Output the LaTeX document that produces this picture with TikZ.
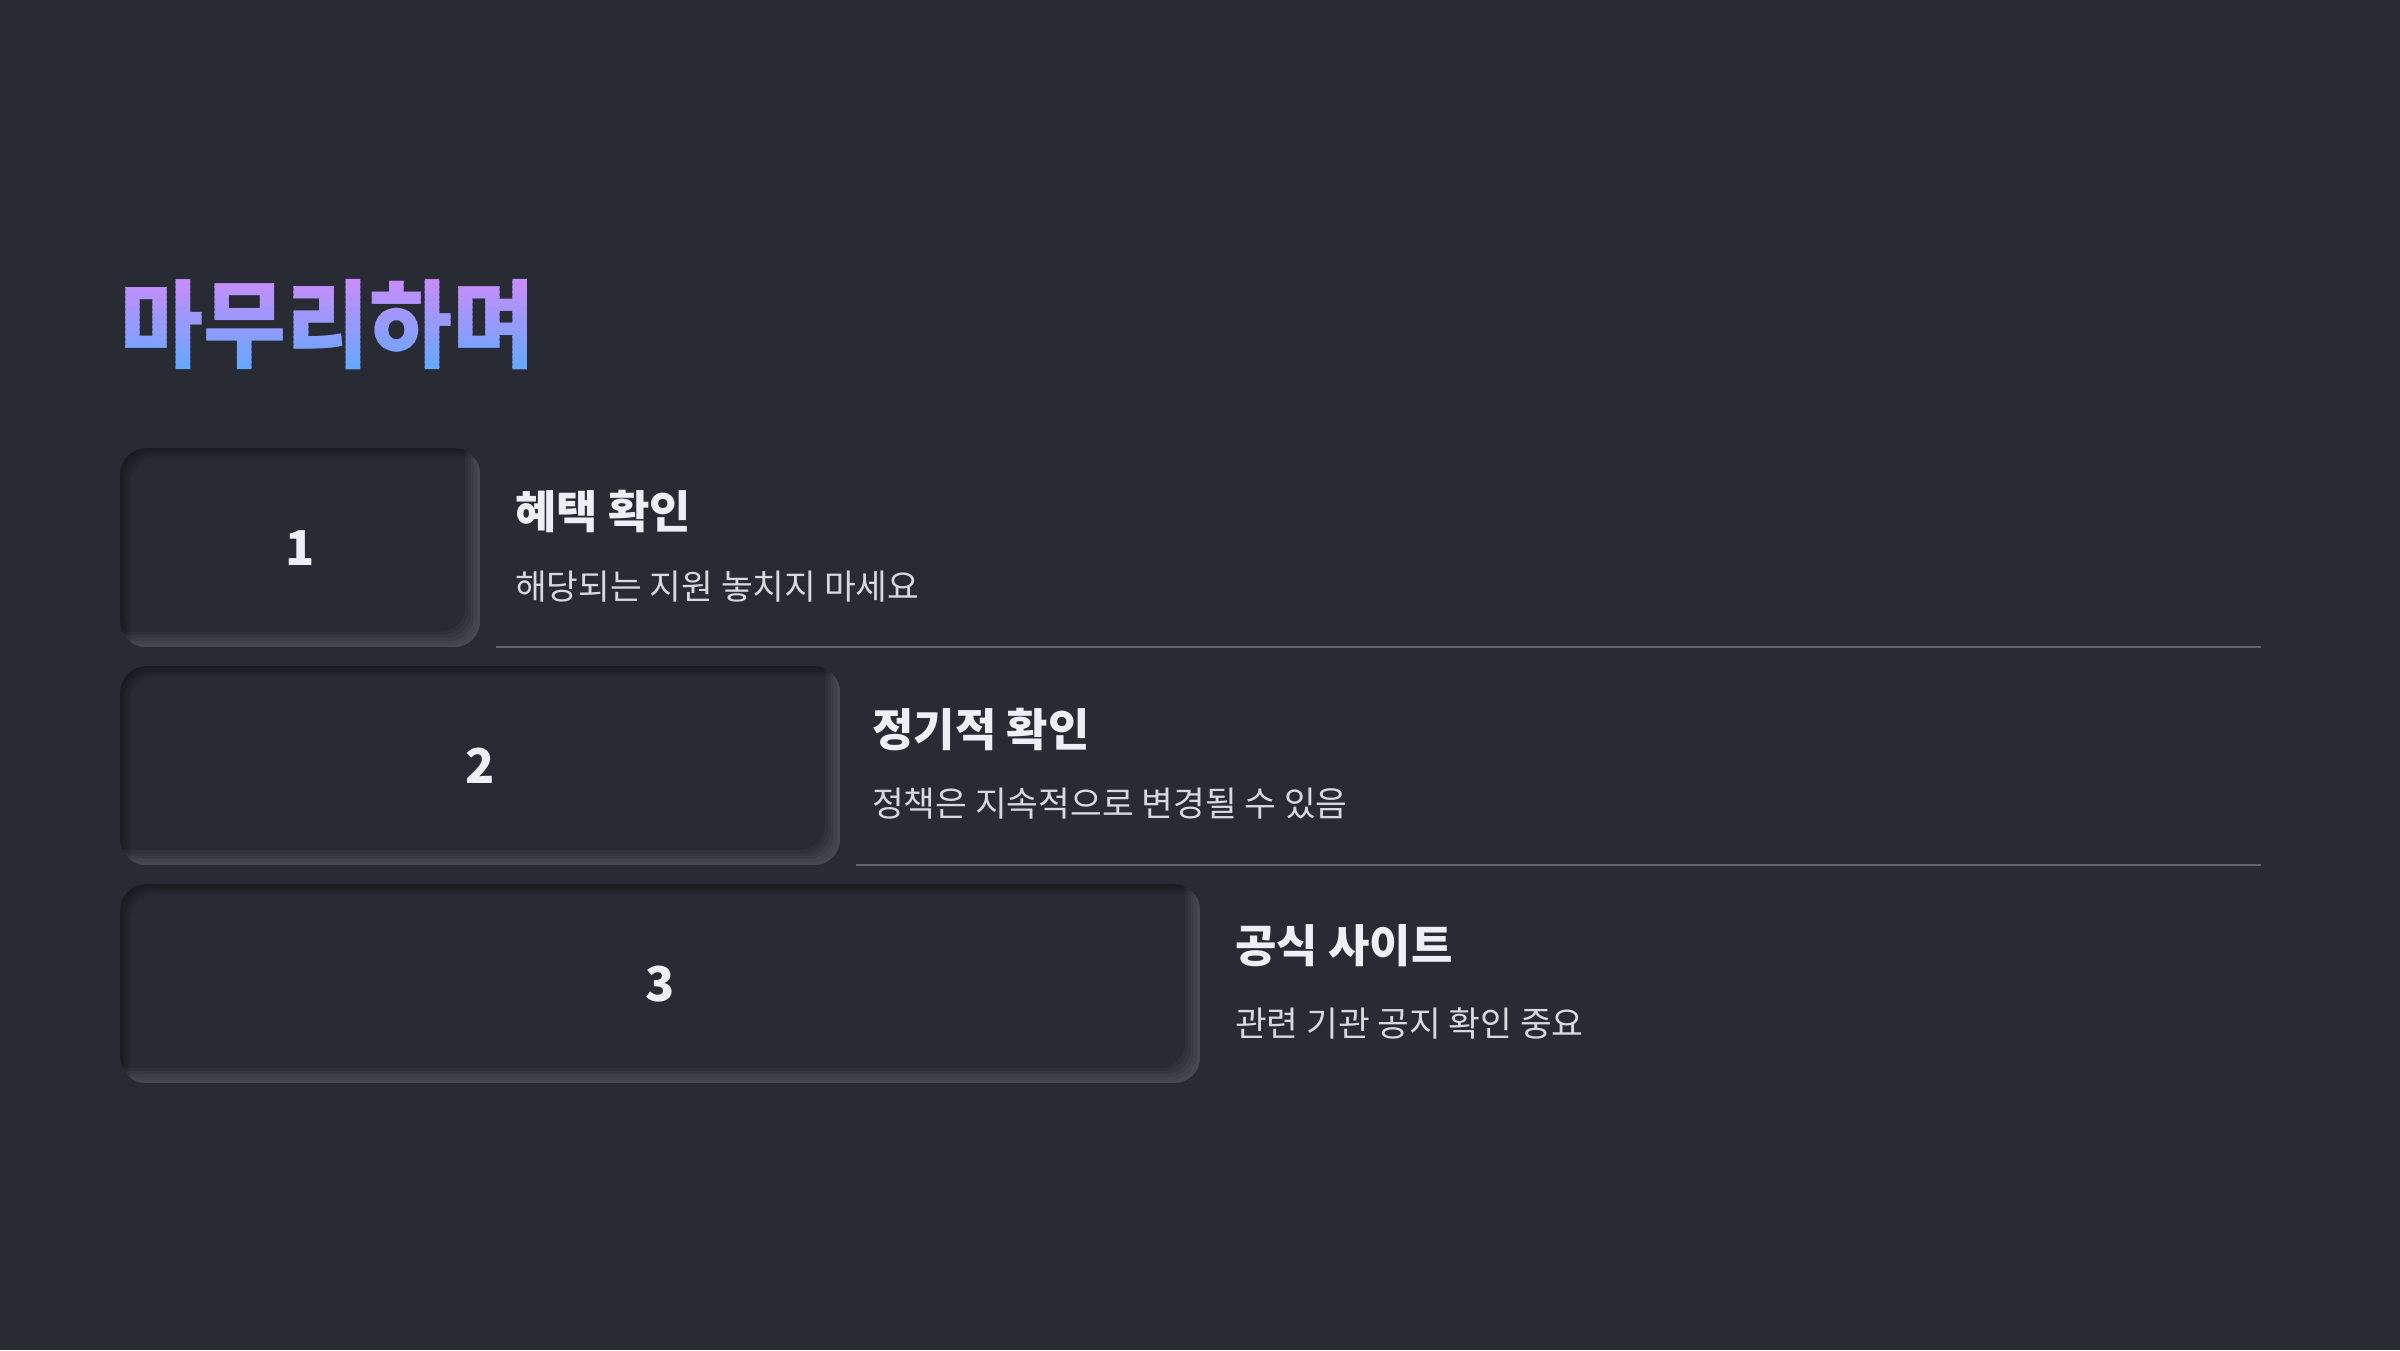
\documentclass[tikz,border=0pt]{standalone}
\usepackage{fontspec}
\newfontfamily\krfont{Noto Sans CJK KR}
\newfontfamily\krtitle[FakeStretch=0.94]{Noto Sans CJK KR}
\definecolor{bg}{RGB}{40,43,51}
\definecolor{sepline}{RGB}{98,101,110}
\definecolor{headc}{RGB}{238,239,244}
\definecolor{descc}{RGB}{216,217,223}
\definecolor{tpurple}{RGB}{202,140,250}
\definecolor{tblue}{RGB}{100,168,255}
\tikzset{
  numbox/.style={rounded corners=26pt, fill=bg, inner sep=0pt, anchor=north west,
    minimum height=199pt,
    path picture={
      \foreach \d in {2,4,6,8,10}{
        \fill[black, opacity=0.07, even odd rule, rounded corners=26pt]
          ([shift={(-60pt,-60pt)}]path picture bounding box.south west) rectangle
          ([shift={(60pt,60pt)}]path picture bounding box.north east)
          ([shift={(\d pt,-\d pt)}]path picture bounding box.south west) rectangle
          ([shift={(\d pt,-\d pt)}]path picture bounding box.north east);
      }
      \foreach \d in {3,6,9,12,15}{
        \fill[white, opacity=0.03, even odd rule, rounded corners=26pt]
          ([shift={(-60pt,-60pt)}]path picture bounding box.south west) rectangle
          ([shift={(60pt,60pt)}]path picture bounding box.north east)
          ([shift={(-\d pt,\d pt)}]path picture bounding box.south west) rectangle
          ([shift={(-\d pt,\d pt)}]path picture bounding box.north east);
      }
    }},
  numtext/.style={inner sep=0pt, text=headc, font=\krfont\bfseries\fontsize{48}{56}\selectfont},
  headtext/.style={inner sep=0pt, anchor=west, text=headc, font=\krfont\bfseries\fontsize{45}{54}\selectfont},
  desctext/.style={inner sep=0pt, anchor=west, text=descc, font=\krfont\fontsize{34.5}{42}\selectfont},
  titletext/.style={inner sep=0pt, anchor=west, font=\krtitle\bfseries\fontsize{96}{110}\selectfont},
  sep/.style={draw=sepline, line width=2pt}
}
\begin{document}
\begin{tikzpicture}[x=1pt,y=1pt]
\useasboundingbox (0,0) rectangle (2400,1350);
\fill[bg] (0,0) rectangle (2400,1350);

% title with vertical gradient (banded)
\foreach \i in {0,...,18}{
  \pgfmathsetmacro\p{100*\i/18}
  \begin{scope}
    \clip (100,{1073-5*\i-5.6}) rectangle (640,{1073-5*\i});
    \node[titletext, text=tblue!\p!tpurple] (title\i) at (120,1025) {마무리하며};
  \end{scope}
}

\coordinate (rightedge) at (2261,0);

% item 1
\node[numbox, minimum width=360pt] (b1) at (120,902) {};
\node[numtext] (n1) at (b1.center) {1};
\node[headtext] (h1) at (515,839) {혜택 확인};
\node[desctext] (d1) at (515,763) {해당되는 지원 놓치지 마세요};
\coordinate (l1s) at ([xshift=16pt]b1.south east);
\draw[sep] (l1s) -- (l1s -| rightedge);

% item 2
\node[numbox, minimum width=720pt] (b2) at (120,684) {};
\node[numtext] (n2) at (b2.center) {2};
\node[headtext] (h2) at (872,620) {정기적 확인};
\node[desctext] (d2) at (872,546) {정책은 지속적으로 변경될 수 있음};
\coordinate (l2s) at ([xshift=16pt]b2.south east);
\draw[sep] (l2s) -- (l2s -| rightedge);

% item 3
\node[numbox, minimum width=1080pt] (b3) at (120,466) {};
\node[numtext] (n3) at (b3.center) {3};
\node[headtext] (h3) at (1235,404) {공식 사이트};
\node[desctext] (d3) at (1235,327) {관련 기관 공지 확인 중요};
\end{tikzpicture}
\end{document}
